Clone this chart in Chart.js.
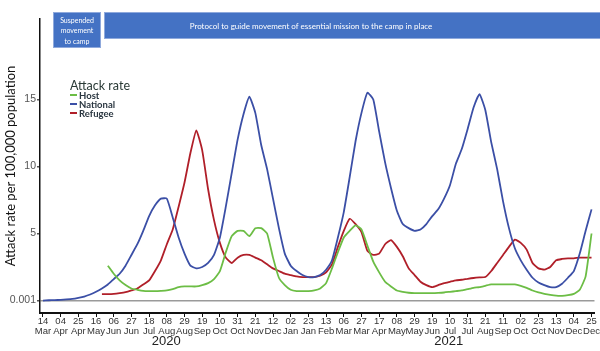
<!DOCTYPE html>
<html>
<head>
<meta charset="utf-8">
<script src="https://cdn.jsdelivr.net/npm/chart.js@4.4.0/dist/chart.umd.min.js"></script>
<style>
  html, body { margin: 0; padding: 0; background: #fff; }
  canvas { display: block; }
</style>
</head>
<body>
<canvas id="attack-rate" width="600" height="351"></canvas>
<script>
// Tick labels, one every 3 weeks starting 14 Mar 2020
const tickLabels = [
  ["14", "Mar"], ["04", "Apr"], ["25", "Apr"], ["16", "May"], ["06", "Jun"], ["27", "Jun"],
  ["18", "Jul"], ["08", "Aug"], ["29", "Aug"], ["19", "Sep"], ["10", "Oct"], ["31", "Oct"],
  ["21", "Nov"], ["12", "Dec"], ["02", "Jan"], ["23", "Jan"], ["13", "Feb"], ["06", "Mar"],
  ["27", "Mar"], ["17", "Apr"], ["08", "May"], ["29", "May"], ["19", "Jun"], ["10", "Jul"],
  ["31", "Jul"], ["21", "Aug"], ["11", "Sep"], ["02", "Oct"], ["23", "Oct"], ["13", "Nov"],
  ["04", "Dec"], ["25", "Dec"]
];
const yearLabels = ["2020", "2021"];
const yTicks = [0, 5, 10, 15];

// Weekly attack rate per 100,000 (week 0 = 14 Mar 2020), null = no data yet
const hostRate = [
  null, null, null, null, null, null, null, null, null, null,
  null, 2.6, 2.0, 1.5, 1.15, 0.9, 0.8, 0.72, 0.7, 0.7,
  0.72, 0.75, 0.85, 1.0, 1.05, 1.05, 1.05, 1.15, 1.3, 1.6,
  2.2, 3.6, 4.8, 5.2, 5.2, 4.8, 5.4, 5.4, 5.0, 3.2,
  1.7, 1.15, 0.8, 0.7, 0.7, 0.7, 0.75, 0.9, 1.3, 2.4,
  3.6, 4.7, 5.2, 5.6, 5.3, 4.1, 2.9, 2.1, 1.4, 1.05,
  0.75, 0.65, 0.58, 0.55, 0.55, 0.55, 0.55, 0.57, 0.6, 0.65,
  0.7, 0.75, 0.85, 0.95, 1.0, 1.1, 1.2, 1.2, 1.2, 1.2,
  1.2, 1.1, 0.95, 0.75, 0.6, 0.5, 0.42, 0.36, 0.35, 0.4,
  0.5, 0.8, 1.8, 5.0
];
const nationalRate = [
  0, 0.02, 0.03, 0.05, 0.08, 0.12, 0.2, 0.3, 0.45, 0.65,
  0.9, 1.2, 1.6, 2.0, 2.6, 3.4, 4.2, 5.2, 6.3, 7.1,
  7.6, 7.6, 6.2, 4.7, 3.5, 2.6, 2.4, 2.5, 2.8, 3.4,
  4.7, 7.0, 9.5, 12.0, 13.9, 15.2, 14.0, 11.6, 9.8, 7.6,
  5.4, 3.5, 2.6, 2.2, 1.9, 1.75, 1.75, 1.9, 2.3, 3.0,
  4.7, 6.6, 9.2, 11.9, 14.0, 15.5, 15.0, 12.6, 10.3, 8.4,
  6.7, 5.7, 5.4, 5.2, 5.3, 5.7, 6.3, 6.8, 7.6, 8.6,
  10.2, 11.3, 12.8, 14.4, 15.4, 14.2, 11.8, 9.8, 7.4, 5.4,
  3.9, 3.0, 2.3, 1.7, 1.35, 1.15, 1.0, 1.0, 1.25, 1.7,
  2.2, 3.5, 5.2, 6.8
];
const refugeeRate = [
  null, null, null, null, null, null, null, null, null, null,
  0.48, 0.48, 0.5, 0.55, 0.62, 0.75, 0.9, 1.2, 1.5, 2.2,
  3.0, 4.2, 5.3, 7.0, 8.8, 11.0, 12.7, 11.2, 8.3, 6.0,
  4.3, 3.2, 2.8, 3.2, 3.4, 3.4, 3.2, 3.0, 2.7, 2.4,
  2.2, 2.0, 1.9, 1.8, 1.75, 1.75, 1.75, 1.85, 2.1, 2.7,
  4.0, 5.2, 6.1, 5.7, 5.1, 3.7, 3.4, 3.5, 4.2, 4.5,
  4.0, 3.3, 2.4, 1.9, 1.4, 1.15, 1.0, 1.15, 1.3, 1.4,
  1.5, 1.55, 1.62, 1.68, 1.72, 1.75, 2.2, 2.8, 3.4, 4.0,
  4.55, 4.3, 3.8, 2.8, 2.4, 2.3, 2.5, 3.0, 3.1, 3.15,
  3.15, 3.2, 3.2, 3.2
];

const seriesNames = ["Host", "National", "Refugee"];
const seriesColors = ["#6cbd45", "#3b4fa6", "#b01f29"];
const seriesData = [hostRate, nationalRate, refugeeRate];

const narrowFont = "'Liberation Sans Narrow', 'Liberation Sans', Arial";

// Banners, legend and year captions drawn on top of the chart
const annotationPlugin = {
  id: "annotations",
  afterDraw(chart) {
    const ctx = chart.ctx;
    const x = chart.scales.x;
    ctx.save();

    // banners
    ctx.fillStyle = "#4472c4";
    ctx.strokeStyle = "#8fa9dc";
    ctx.lineWidth = 1;
    ctx.fillRect(53, 12, 48, 36);
    ctx.strokeRect(53.5, 12.5, 47, 35);
    ctx.fillRect(104, 12, 496, 27);
    ctx.strokeRect(104.5, 12.5, 496, 26);
    ctx.fillStyle = "#fff";
    ctx.textAlign = "center";
    ctx.textBaseline = "middle";
    ctx.font = "7px Lato";
    ["Suspended", "movement", "to camp"].forEach((line, i) => {
      ctx.fillText(line, 77, 20.5 + i * 10.5);
    });
    ctx.font = "8px Lato";
    ctx.fillText("Protocol to guide movement of essential mission to the camp in place", 311, 26);

    // legend
    ctx.textAlign = "left";
    ctx.fillStyle = "#2a3a36";
    ctx.font = "12.5px Lato";
    ctx.fillText("Attack rate", 70, 86);
    ctx.font = "bold 9.5px Lato";
    seriesNames.forEach((name, i) => {
      const y = 95 + i * 9;
      ctx.strokeStyle = seriesColors[i];
      ctx.lineWidth = 2;
      ctx.beginPath();
      ctx.moveTo(70, y);
      ctx.lineTo(77, y);
      ctx.stroke();
      ctx.fillStyle = "#2a3640";
      ctx.fillText(name, 79, y + 0.5);
    });

    // years
    ctx.fillStyle = "#222";
    ctx.textAlign = "center";
    ctx.font = "13px " + narrowFont;
    ctx.fillText(yearLabels[0], x.getPixelForValue(20.9), 341);
    ctx.fillText(yearLabels[1], x.getPixelForValue(68.8), 341);
    ctx.restore();
  }
};

new Chart(document.getElementById("attack-rate"), {
  type: "line",
  data: {
    datasets: seriesNames.map((name, i) => ({
      label: name,
      data: seriesData[i].map((v, w) => ({ x: w, y: v })),
      borderColor: seriesColors[i],
      borderWidth: 1.8,
      pointRadius: 0,
      tension: 0.15,
      fill: false,
      spanGaps: false
    }))
  },
  options: {
    responsive: false,
    devicePixelRatio: 1,
    animation: false,
    layout: { padding: { top: 19, right: 3, left: 0, bottom: 0 } },
    plugins: {
      legend: { display: false },
      tooltip: { enabled: false }
    },
    scales: {
      x: {
        type: "linear",
        min: -0.5,
        max: 93.5,
        afterBuildTicks: (scale) => {
          scale.ticks = tickLabels.map((_, i) => ({ value: i * 3 }));
        },
        afterFit: (scale) => {
          scale.height = 38;
        },
        border: { color: "#111", width: 2 },
        grid: {
          drawOnChartArea: false,
          drawTicks: true,
          tickLength: 4,
          tickColor: "#111",
          tickWidth: 1
        },
        ticks: {
          autoSkip: false,
          maxRotation: 0,
          padding: 0,
          color: "#333",
          font: { family: narrowFont, size: 9.5, lineHeight: 1.0 },
          callback: (value) => tickLabels[Math.round(value / 3)]
        }
      },
      y: {
        min: -0.93,
        max: 21,
        afterBuildTicks: (scale) => {
          scale.ticks = yTicks.map((v) => ({ value: v }));
        },
        afterFit: (scale) => {
          scale.width = 40;
        },
        border: { color: "#111", width: 1.5 },
        grid: {
          color: (c) => (c.tick && c.tick.value === 0 ? "#9a9a9a" : "rgba(0,0,0,0)"),
          lineWidth: 1.5,
          drawTicks: true,
          tickLength: 3,
          tickColor: "#555"
        },
        ticks: {
          padding: 1,
          color: "#555",
          font: { family: narrowFont, size: 10.5 },
          callback: (value) => (value === 0 ? "0.001" : String(value))
        },
        title: {
          display: true,
          text: "Attack rate per 100,000 population",
          color: "#111",
          font: { family: "Lato", size: 13 },
          padding: { top: 3, bottom: 0 }
        }
      }
    }
  },
  plugins: [annotationPlugin]
});
</script>
</body>
</html>
